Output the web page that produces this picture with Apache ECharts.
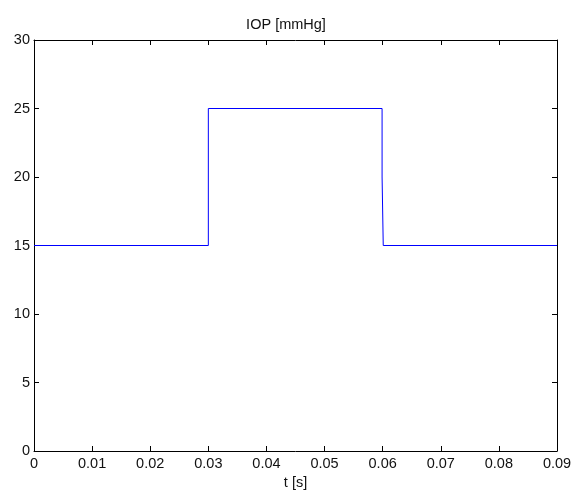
<!DOCTYPE html>
<html>
<head>
<meta charset="utf-8">
<script src="https://cdn.jsdelivr.net/npm/echarts@6/dist/echarts.min.js"></script>
<style>
  html, body { margin: 0; padding: 0; background: #fff; }
  #chart { width: 572px; height: 493px; }
</style>
</head>
<body>
<div id="chart"></div>
<script>
// IOP pulse: time in seconds, pressure in mmHg
const timeS = [0, 0.03, 0.03, 0.0599, 0.0599, 0.0601, 0.0601, 0.09];
const iopMmHg = [15, 15, 25, 25, 20, 20, 15, 15];
const xTicks = [0, 0.01, 0.02, 0.03, 0.04, 0.05, 0.06, 0.07, 0.08, 0.09];
const yTicks = [0, 5, 10, 15, 20, 25, 30];

const font = 'Liberation Sans, Arial, sans-serif';
const fontSize = 14.5;
const textColor = '#111';
const points = timeS.map((t, i) => [t, iopMmHg[i]]);

const chart = echarts.init(document.getElementById('chart'), null, { renderer: 'canvas' });

const boxLine = () => ({ show: true, onZero: false, lineStyle: { color: '#000', width: 1 } });
const tickIn = () => ({ show: true, inside: true, length: 5, lineStyle: { color: '#000', width: 1 } });
const pickLabel = list => v => {
  const m = list.find(t => Math.abs(t - v) < 1e-9);
  return m === undefined ? '' : String(m);
};

chart.setOption({
  animation: false,
  backgroundColor: '#fff',
  title: {
    text: 'IOP [mmHg]',
    left: 'center',
    top: 12,
    textStyle: { fontFamily: font, fontSize: fontSize, fontWeight: 'normal', color: textColor }
  },
  grid: { left: 34, right: 15, top: 40, bottom: 42, containLabel: false, outerBoundsMode: 'none' },
  xAxis: [
    {
      type: 'value', min: 0, max: 0.09, interval: 0.01,
      name: 't [s]', nameLocation: 'middle', nameGap: 23,
      nameTextStyle: { fontFamily: font, fontSize: fontSize, color: textColor },
      axisLine: boxLine(), axisTick: tickIn(), splitLine: { show: false },
      axisLabel: { fontFamily: font, fontSize: fontSize, color: textColor, margin: 5, formatter: pickLabel(xTicks) }
    },
    {
      type: 'value', position: 'top', min: 0, max: 0.09, interval: 0.01,
      axisLine: boxLine(), axisTick: tickIn(), axisLabel: { show: false }, splitLine: { show: false }
    }
  ],
  yAxis: [
    {
      type: 'value', min: 0, max: 30, interval: 5,
      axisLine: boxLine(), axisTick: tickIn(), splitLine: { show: false },
      axisLabel: { fontFamily: font, fontSize: fontSize, color: textColor, margin: 4, formatter: pickLabel(yTicks) }
    },
    {
      type: 'value', position: 'right', min: 0, max: 30, interval: 5,
      axisLine: boxLine(), axisTick: tickIn(), axisLabel: { show: false }, splitLine: { show: false }
    }
  ],
  series: [
    {
      type: 'line',
      data: points,
      z: 10,
      showSymbol: false,
      lineStyle: { color: '#0000ff', width: 1 },
      itemStyle: { color: '#0000ff' }
    }
  ]
});
</script>
</body>
</html>
